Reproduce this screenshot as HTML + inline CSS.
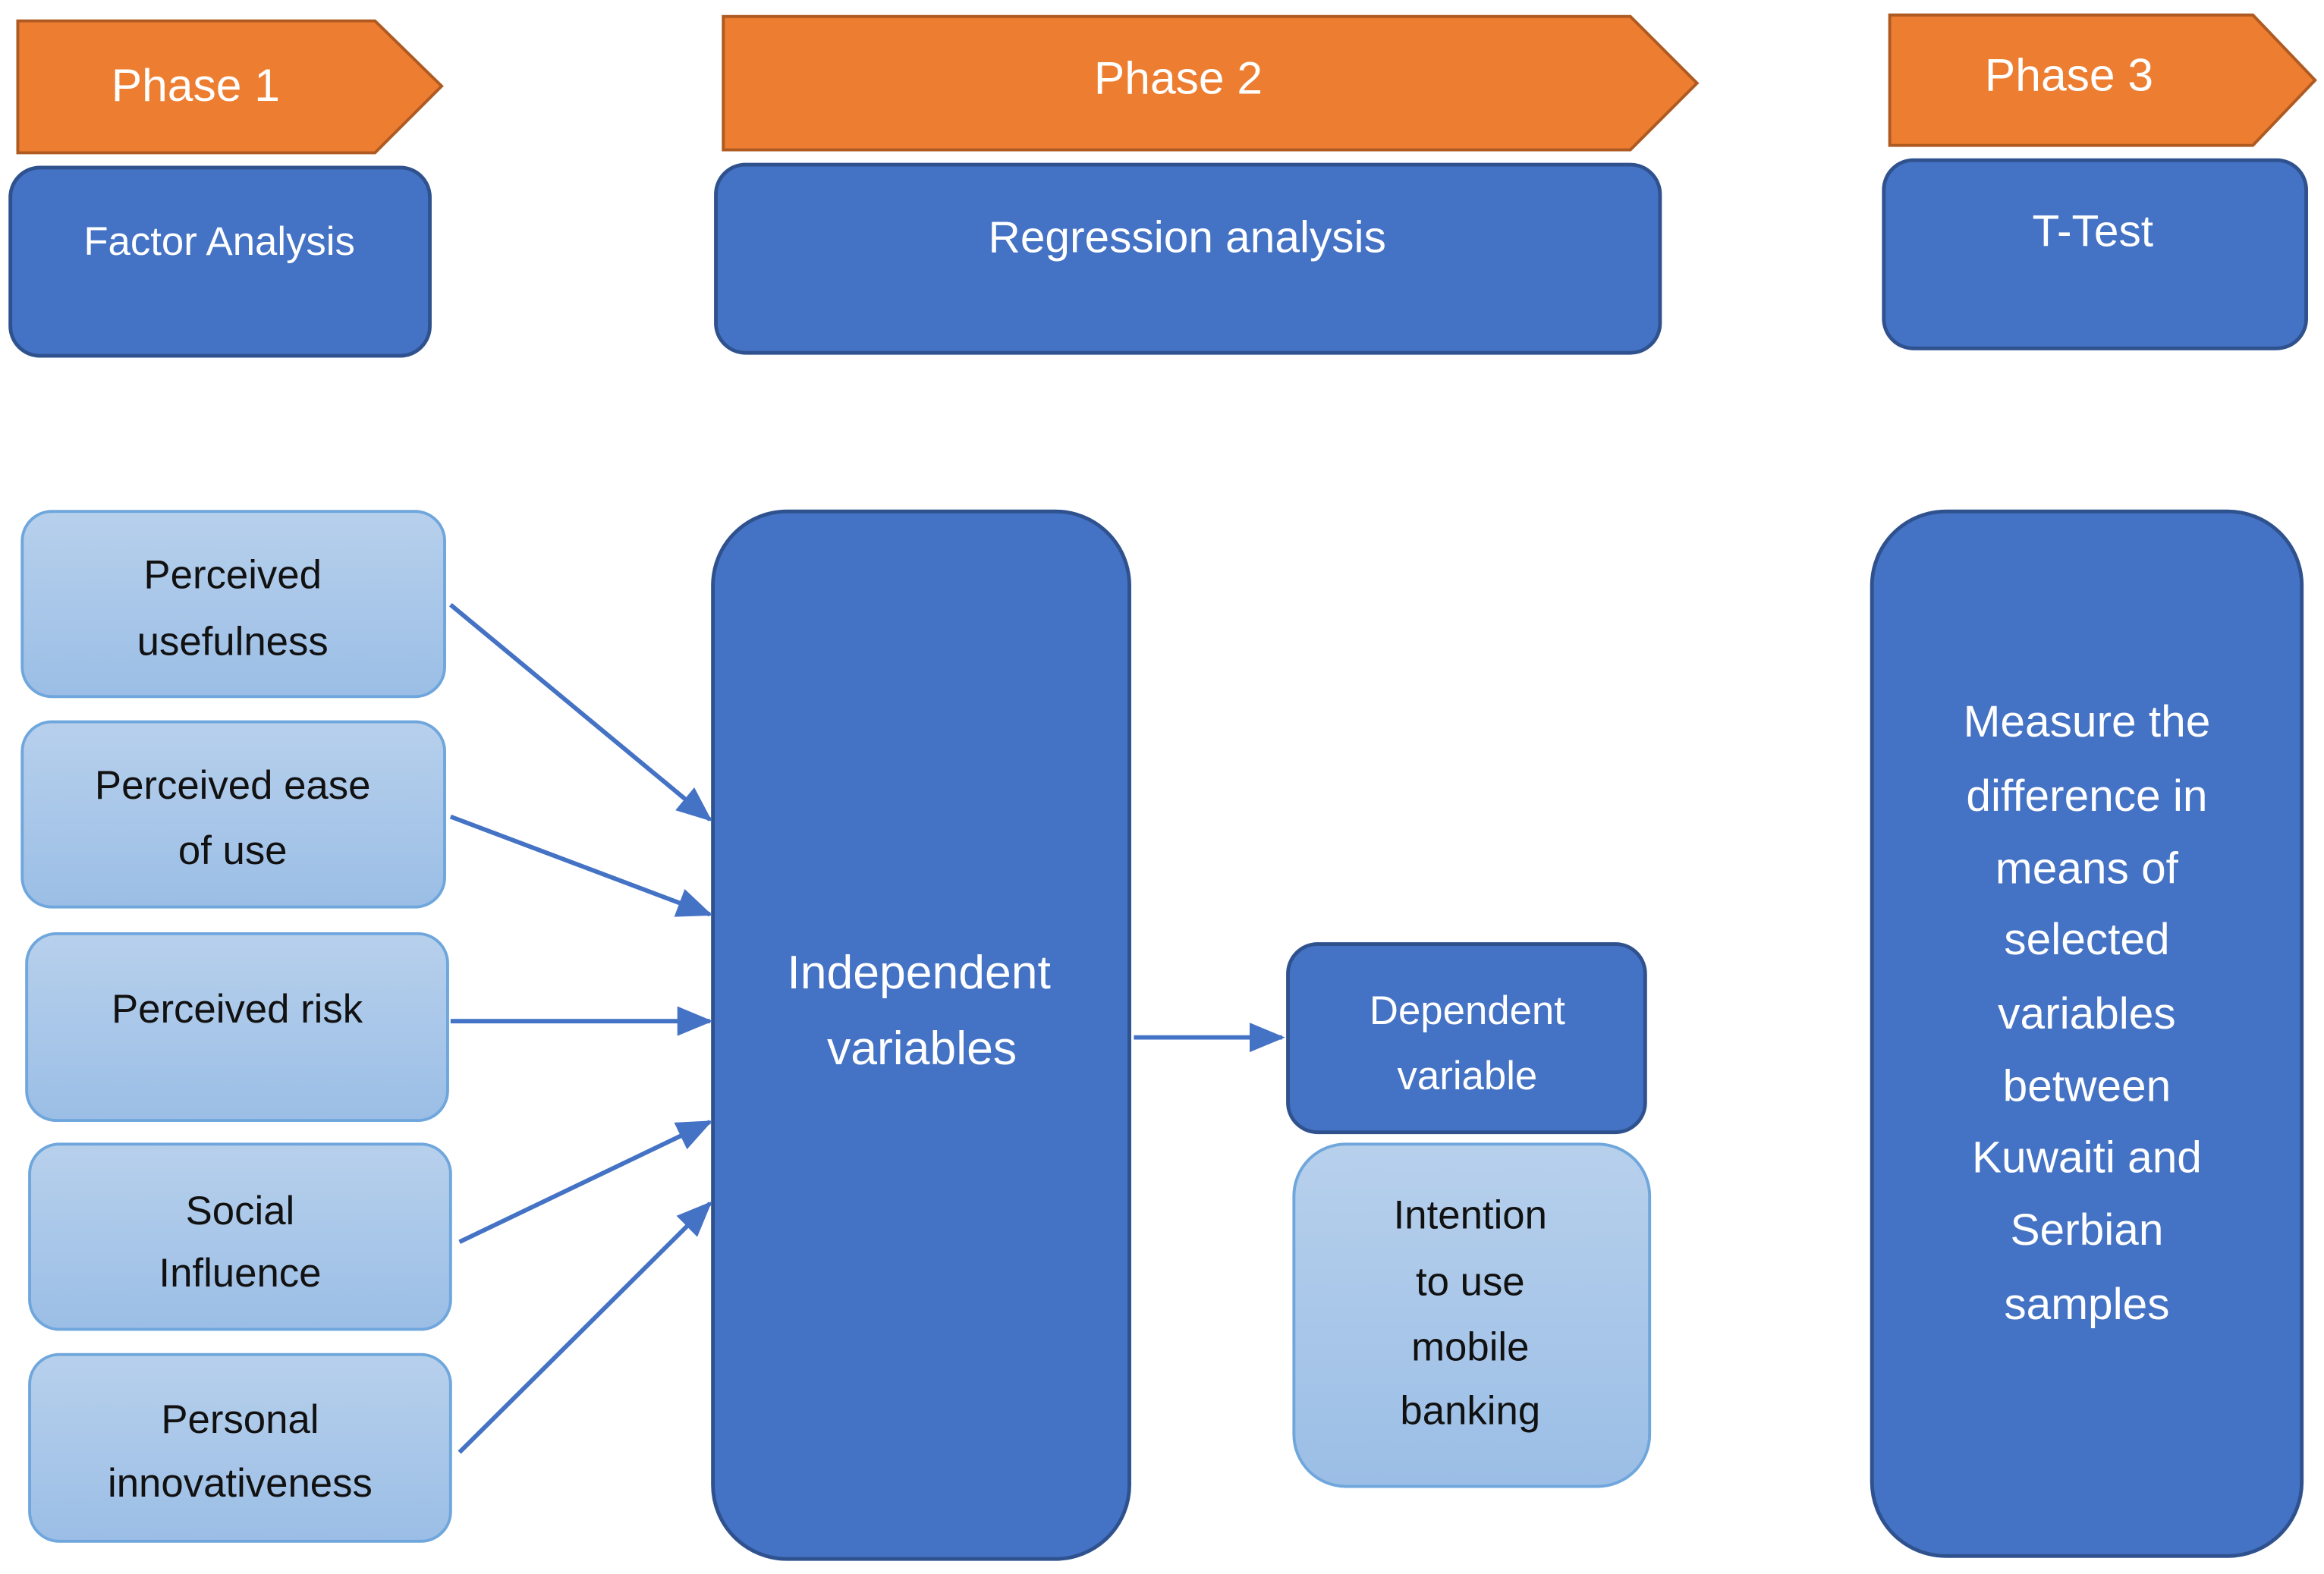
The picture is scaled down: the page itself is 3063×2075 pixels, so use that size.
<!DOCTYPE html>
<html><head><meta charset="utf-8"><style>html,body{margin:0;padding:0;background:#fff}svg{display:block}</style></head>
<body>
<svg xmlns="http://www.w3.org/2000/svg" width="3063" height="2075" viewBox="0 0 1568 1062">
<defs>
<linearGradient id="lg" x1="0" y1="0" x2="0" y2="1"><stop offset="0" stop-color="#B7D0EC"/><stop offset="1" stop-color="#9BBEE6"/></linearGradient>
<marker id="ah" markerWidth="8" markerHeight="8" refX="7" refY="4" orient="auto" markerUnits="userSpaceOnUse" viewBox="0 0 8 8"><path d="M0,0 L8,4 L0,8 z" fill="#4472C4" transform="scale(1)"/></marker>
<marker id="ah2" markerWidth="24" markerHeight="24" refX="22" refY="12" orient="auto" markerUnits="userSpaceOnUse"><path d="M0,2 L24,12 L0,22 z" fill="#4472C4"/></marker>
</defs>
<g font-family="Liberation Sans, sans-serif" text-anchor="middle">
<!-- phase arrows -->
<polygon points="12,14 253,14 298,58 253,103 12,103" fill="#ED7D31" stroke="#AE5A21" stroke-width="2"/>
<text x="132" y="68" font-size="31" fill="#fff">Phase 1</text>
<polygon points="488,11 1100,11 1145,56 1100,101 488,101" fill="#ED7D31" stroke="#AE5A21" stroke-width="2"/>
<text x="795" y="63" font-size="31" fill="#fff">Phase 2</text>
<polygon points="1275,10 1520,10 1562,54 1520,98 1275,98" fill="#ED7D31" stroke="#AE5A21" stroke-width="2"/>
<text x="1396" y="61" font-size="31" fill="#fff">Phase 3</text>
<!-- top blue boxes -->
<rect x="7" y="113" width="283" height="127" rx="20" fill="#4472C4" stroke="#2F528F" stroke-width="2.5"/>
<text x="148" y="172" font-size="27" fill="#fff">Factor Analysis</text>
<rect x="483" y="111" width="637" height="127" rx="20" fill="#4472C4" stroke="#2F528F" stroke-width="2.5"/>
<text x="801" y="170" font-size="30" fill="#fff">Regression analysis</text>
<rect x="1271" y="108" width="285" height="127" rx="20" fill="#4472C4" stroke="#2F528F" stroke-width="2.5"/>
<text x="1412" y="166" font-size="30" fill="#fff">T-Test</text>
<!-- left light boxes -->
<g fill="url(#lg)" stroke="#6FA6DC" stroke-width="2">
<rect x="15" y="345" width="285" height="125" rx="20"/>
<rect x="15" y="487" width="285" height="125" rx="20"/>
<rect x="18" y="630" width="284" height="126" rx="20"/>
<rect x="20" y="772" width="284" height="125" rx="20"/>
<rect x="20" y="914" width="284" height="126" rx="20"/>
<rect x="873" y="772" width="240" height="231" rx="35"/>
</g>
<g font-size="27" fill="#111">
<text x="157" y="397">Perceived</text><text x="157" y="442">usefulness</text>
<text x="157" y="539">Perceived ease</text><text x="157" y="583">of use</text>
<text x="160" y="690">Perceived risk</text>
<text x="162" y="826">Social</text><text x="162" y="868">Influence</text>
<text x="162" y="967">Personal</text><text x="162" y="1010">innovativeness</text>
<text x="992" y="829">Intention</text><text x="992" y="874">to use</text><text x="992" y="918">mobile</text><text x="992" y="961">banking</text>
</g>
<!-- big blue boxes -->
<rect x="481" y="345" width="281" height="707" rx="50" fill="#4472C4" stroke="#2F528F" stroke-width="2.5"/>
<text x="620" y="667" font-size="32" fill="#fff">Independent</text>
<text x="622" y="718" font-size="32" fill="#fff">variables</text>
<rect x="869" y="637" width="241" height="127" rx="20" fill="#4472C4" stroke="#2F528F" stroke-width="2.5"/>
<text x="990" y="691" font-size="27" fill="#fff">Dependent</text>
<text x="990" y="735" font-size="27" fill="#fff">variable</text>
<rect x="1263" y="345" width="290" height="705" rx="50" fill="#4472C4" stroke="#2F528F" stroke-width="2.5"/>
<g font-size="30" fill="#fff">
<text x="1408" y="497">Measure the</text><text x="1408" y="547">difference in</text><text x="1408" y="596">means of</text><text x="1408" y="644">selected</text><text x="1408" y="694">variables</text><text x="1408" y="743">between</text><text x="1408" y="791">Kuwaiti and</text><text x="1408" y="840">Serbian</text><text x="1408" y="890">samples</text>
</g>
<!-- arrows -->
<g stroke="#4472C4" stroke-width="3" fill="none" marker-end="url(#ah2)">
<line x1="304" y1="408" x2="479" y2="553"/>
<line x1="304" y1="551" x2="479" y2="617"/>
<line x1="304" y1="689" x2="479" y2="689"/>
<line x1="310" y1="838" x2="479" y2="757"/>
<line x1="310" y1="980" x2="479" y2="812"/>
<line x1="765" y1="700" x2="865" y2="700"/>
</g>
</g>
</svg>
</body></html>
